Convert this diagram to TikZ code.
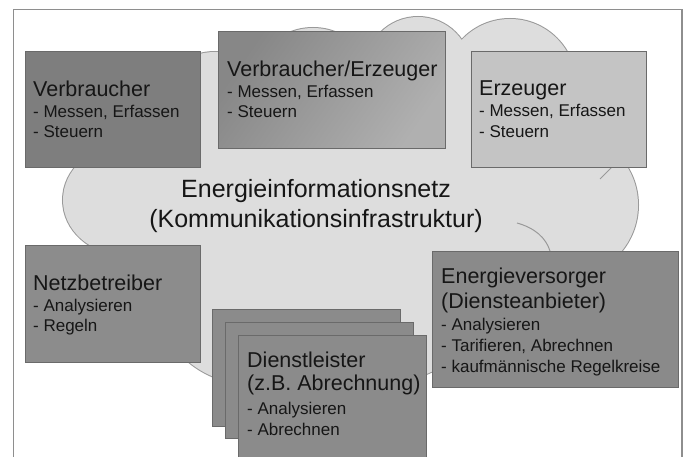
\documentclass[tikz,border=0pt]{standalone}
\usepackage{fontspec}
\setmainfont{Liberation Sans}
\definecolor{cloudfill}{HTML}{DDDDDD}
\definecolor{cloudline}{HTML}{999999}
\definecolor{frameline}{HTML}{8E8E8E}
\definecolor{boxline}{HTML}{6A6A6A}
\definecolor{txt}{HTML}{161616}
\definecolor{cVerb}{HTML}{7E7E7E}
\definecolor{cVEa}{HTML}{878787}
\definecolor{cVEb}{HTML}{B0B0B0}
\definecolor{cErz}{HTML}{C4C4C4}
\definecolor{cNetz}{HTML}{8C8C8C}
\definecolor{cEV}{HTML}{8A8A8A}
\definecolor{cDL}{HTML}{8B8B8B}
\begin{document}
\begin{tikzpicture}[x=1pt,y=-1pt,
  box/.style={rectangle,draw=boxline,line width=0.7pt,anchor=north west,inner sep=0pt},
  title/.style={anchor=base west,inner sep=0pt,text=txt,font=\fontsize{21.5}{24}\selectfont},
  sub/.style={anchor=base west,inner sep=0pt,text=txt,font=\fontsize{17}{20}\selectfont},
  bigtext/.style={anchor=base,inner sep=0pt,text=txt,font=\fontsize{25}{30}\selectfont},
  cloudparts/.style={insert path={
    (125,200) ellipse [x radius=62, y radius=55]
    (215,112) circle [radius=60]
    (313,90) circle [radius=62]
    (418,70) circle [radius=53]
    (510,85) circle [radius=66]
    (565,205) circle [radius=73]
    (250,288) circle [radius=96]
    (395,295) circle [radius=85]
    (345,220) ellipse [x radius=250, y radius=120]}}]
\clip (0,0) rectangle (690,457);
\fill[white] (0,0) rectangle (690,457);
% frame
\draw[frameline,line width=1.8pt] (13.5,470) -- (13.5,9.5) -- (682,9.5) -- (682,470);
% cloud
\draw[cloudline,line width=2pt,cloudparts];
\fill[cloudfill,cloudparts];
\draw[cloudline,line width=1pt] (517,223) .. controls (535,228) and (546,238) .. (550,251);
\draw[cloudline,line width=1pt] (612,167) -- (600,179);
% center text
\node[bigtext] (net1) at (316,197) {Energieinformationsnetz};
\node[bigtext] (net2) at (316,227) {(Kommunikationsinfrastruktur)};
% Verbraucher
\node[box,fill=cVerb,minimum width=175pt,minimum height=116pt] (verb) at (25,51) {};
\node[title] (verbT) at ([xshift=8pt,yshift=-46pt]verb.north west) {Verbraucher};
\node[sub] (verbA) at ([xshift=8pt,yshift=-67pt]verb.north west) {- Messen, Erfassen};
\node[sub] (verbB) at ([xshift=8pt,yshift=-87pt]verb.north west) {- Steuern};
% Verbraucher/Erzeuger
\node[box,left color=cVEa,right color=cVEb,shading angle=55,minimum width=227pt,minimum height=117pt] (ve) at (218,31) {};
\node[title] (veT) at ([xshift=9pt,yshift=-46pt]ve.north west) {Verbraucher/Erzeuger};
\node[sub] (veA) at ([xshift=9pt,yshift=-67pt]ve.north west) {- Messen, Erfassen};
\node[sub] (veB) at ([xshift=9pt,yshift=-87pt]ve.north west) {- Steuern};
% Erzeuger
\node[box,fill=cErz,minimum width=175pt,minimum height=116pt] (erz) at (471,51) {};
\node[title] (erzT) at ([xshift=8pt,yshift=-45pt]erz.north west) {Erzeuger};
\node[sub] (erzA) at ([xshift=8pt,yshift=-66pt]erz.north west) {- Messen, Erfassen};
\node[sub] (erzB) at ([xshift=8pt,yshift=-87pt]erz.north west) {- Steuern};
% Netzbetreiber
\node[box,fill=cNetz,minimum width=175pt,minimum height=117pt] (netz) at (25,245) {};
\node[title] (netzT) at ([xshift=8pt,yshift=-45pt]netz.north west) {Netzbetreiber};
\node[sub] (netzA) at ([xshift=8pt,yshift=-66pt]netz.north west) {- Analysieren};
\node[sub] (netzB) at ([xshift=8pt,yshift=-86pt]netz.north west) {- Regeln};
% Energieversorger
\node[box,fill=cEV,minimum width=246pt,minimum height=136pt] (ev) at (432,251) {};
\node[title] (evT) at ([xshift=9pt,yshift=-32pt]ev.north west) {Energieversorger};
\node[title] (evT2) at ([xshift=9pt,yshift=-57pt]ev.north west) {(Diensteanbieter)};
\node[sub] (evA) at ([xshift=9pt,yshift=-79pt]ev.north west) {- Analysieren};
\node[sub] (evB) at ([xshift=9pt,yshift=-100pt]ev.north west) {- Tarifieren, Abrechnen};
\node[sub] (evC) at ([xshift=9pt,yshift=-121pt]ev.north west) {- kaufmännische Regelkreise};
% Dienstleister stack
\node[box,fill=cDL,minimum width=188pt,minimum height=117pt] (dl1) at (212,309) {};
\node[box,fill=cDL,minimum width=188pt,minimum height=116pt] (dl2) at (225,322) {};
\node[box,fill=cDL,minimum width=188pt,minimum height=125pt] (dl3) at (238,335) {};
\node[title] (dlT) at ([xshift=9pt,yshift=-32pt]dl3.north west) {Dienstleister};
\node[title] (dlT2) at ([xshift=9pt,yshift=-55pt]dl3.north west) {(z.B. Abrechnung)};
\node[sub] (dlA) at ([xshift=9pt,yshift=-79pt]dl3.north west) {- Analysieren};
\node[sub] (dlB) at ([xshift=9pt,yshift=-100pt]dl3.north west) {- Abrechnen};
\end{tikzpicture}
\end{document}
